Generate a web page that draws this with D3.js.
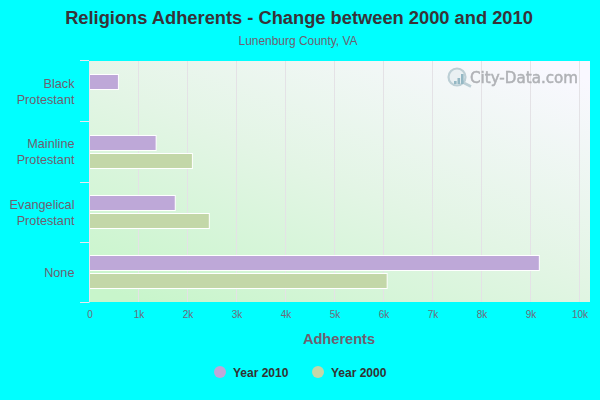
<!DOCTYPE html>
<html><head><meta charset="utf-8">
<script src="https://cdn.jsdelivr.net/npm/d3@7"></script>
<style>html,body{margin:0;padding:0;background:#0ff}svg{display:block}text{font-family:"Liberation Sans",Arial,sans-serif}</style>
</head><body><svg id="c" width="600" height="400"></svg>
<script>
const categories = [["Black","Protestant"],["Mainline","Protestant"],["Evangelical","Protestant"],["None"]];
const catKeys = ["Black Protestant","Mainline Protestant","Evangelical Protestant","None"];
const year2010 = [590,1360,1750,9180];
const year2000 = [null,2100,2445,6075];
const xTicks = [0,1000,2000,3000,4000,5000,6000,7000,8000,9000,10000];
const xTickLabels = ["0","1k","2k","3k","4k","5k","6k","7k","8k","9k","10k"];
const seriesNames = ["Year 2010","Year 2000"];
const seriesColors = ["#bea8d8","#c3d7a8"];

const svg = d3.select("#c");
const pLeft=89.5,pRight=590,pTop=61,pBottom=302;
const x = d3.scaleLinear().domain([0,10000]).range([pLeft,579.5]);
const y = d3.scaleBand().domain(catKeys).range([60.4,302]);
const yEdge = d3.scaleLinear().domain([0,catKeys.length]).range([60,302.2]);

const defs = svg.append("defs");
const grad = defs.append("linearGradient").attr("id","bg").attr("x1","0.1").attr("y1","1").attr("x2","0.9").attr("y2","0");
[[0,"#c8f5cb"],[.5,"#e3f5e5"],[1,"#f9f8ff"]].forEach(s=>grad.append("stop").attr("offset",s[0]).attr("stop-color",s[1]));
defs.append("filter").attr("id","soft").append("feGaussianBlur").attr("stdDeviation",0.45);
svg.append("rect").attr("x",pLeft-.5).attr("y",pTop).attr("width",pRight-pLeft+.5).attr("height",pBottom-pTop).attr("fill","url(#bg)");

// grid
svg.append("g").selectAll("line").data(xTicks.slice(1)).join("line")
  .attr("x1",d=>Math.round(x(d))-.5).attr("x2",d=>Math.round(x(d))-.5).attr("y1",pTop).attr("y2",pBottom)
  .attr("stroke","#e4e2e6").attr("stroke-width",1);

// watermark
const wm = svg.append("g").attr("filter","url(#soft)");
wm.append("circle").attr("cx",457).attr("cy",77).attr("r",8.5).attr("fill","#e4edef").attr("fill-opacity",.7).attr("stroke","#bccfd5").attr("stroke-width",2.2);
wm.append("line").attr("x1",464).attr("y1",83).attr("x2",471).attr("y2",86.5).attr("stroke","#bccfd5").attr("stroke-width",2.6);
[[454,3],[457.5,6],[461,10]].forEach(b=>wm.append("rect").attr("x",b[0]).attr("y",84-b[1]).attr("width",2.6).attr("height",b[1]).attr("fill","#94b8c4"));
wm.append("text").attr("x",470).attr("y",83).attr("font-size",15).attr("fill","#b0b2b6").attr("stroke","#b0b2b6").attr("stroke-width",.5)
  .style("font-family","'DejaVu Sans'").attr("textLength",108).attr("lengthAdjust","spacingAndGlyphs").text("City-Data.com");

// bars
const h=15, barOff=[13.8,31.8];
[year2010,year2000].forEach((vals,s)=>{
  svg.append("g").selectAll("rect").data(vals.map((v,i)=>({v,i})).filter(d=>d.v!=null)).join("rect")
    .attr("x",pLeft).attr("y",d=>Math.round(y(catKeys[d.i])+barOff[s])+.5)
    .attr("width",d=>x(d.v)-pLeft).attr("height",h)
    .attr("fill",seriesColors[s]).attr("stroke","#fff").attr("stroke-width",1);
});

// axes
const ax = d3.axisBottom(x).tickValues(xTicks).tickFormat((d,i)=>xTickLabels[i]).tickSize(0).tickPadding(9);
const gx = svg.append("g").attr("transform",`translate(0,${pBottom})`).call(ax);
gx.select(".domain").remove();
gx.selectAll("text").attr("font-size",10).attr("fill","#6f6a78").style("font-family","'Liberation Sans'");

const gy = svg.append("g");
gy.append("line").attr("x1",89.5).attr("x2",89.5).attr("y1",pTop).attr("y2",pBottom+.5).attr("stroke","#e8e6f0");
const edges = d3.range(catKeys.length+1).map(i=>Math.min(Math.ceil(yEdge(i)),pBottom));
gy.selectAll(".t").data(edges).join("line").attr("class","t")
  .attr("x1",80).attr("x2",89).attr("y1",d=>d+.5).attr("y2",d=>d+.5)
  .attr("stroke","#ece6f0");
categories.forEach((lines,i)=>{
  const cy = y(catKeys[i])+y.bandwidth()/2;
  const t = svg.append("text").attr("text-anchor","end").attr("font-size",12.7).attr("fill","#6e5f70");
  lines.forEach((l,j)=>t.append("tspan").attr("x",74.5)
    .attr("y",Math.round(cy + 5.2 + (j-(lines.length-1)/2)*16)).text(l));
});

// titles
svg.append("text").attr("x",299).attr("y",24).attr("text-anchor","middle").attr("font-size",18.3).attr("font-weight","bold").attr("fill","#383338").text("Religions Adherents - Change between 2000 and 2010");
svg.append("text").attr("x",298).attr("y",45).attr("text-anchor","middle").attr("font-size",12).attr("fill","#6e5f70").attr("textLength",119).attr("lengthAdjust","spacingAndGlyphs").text("Lunenburg County, VA");
svg.append("text").attr("x",339).attr("y",344).attr("text-anchor","middle").attr("font-size",14.6).attr("font-weight","bold").attr("fill","#6e5f70").text("Adherents");

// legend
const lx=[220,318], ltx=[233,331];
seriesNames.forEach((n,i)=>{
  svg.append("circle").attr("cx",lx[i]).attr("cy",372).attr("r",6).attr("fill",seriesColors[i]);
  svg.append("text").attr("x",ltx[i]).attr("y",377).attr("font-size",12).attr("font-weight","bold").attr("fill","#333").text(n);
});
</script></body></html>
